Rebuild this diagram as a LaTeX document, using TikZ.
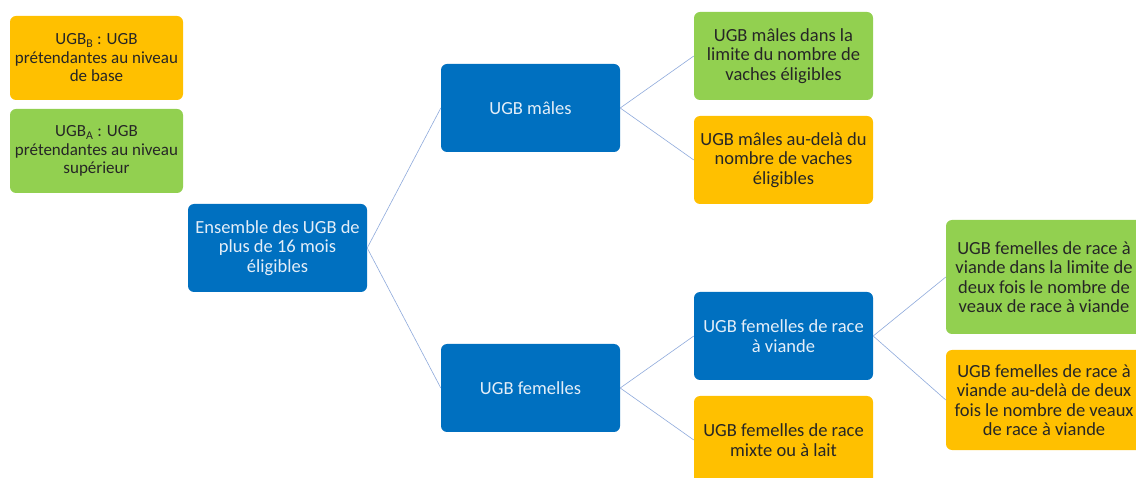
\documentclass[tikz,border=0pt]{standalone}
\usepackage{fontspec}
\setmainfont{Carlito}
\definecolor{ublue}{HTML}{0070C0}
\definecolor{uorange}{HTML}{FFC000}
\definecolor{ugreen}{HTML}{92D050}
\definecolor{uline}{HTML}{8FAADC}
\definecolor{utext}{HTML}{E4EEF8}
\begin{document}
\begin{tikzpicture}[x=1pt,y=-1pt,
  box/.style={rectangle, rounded corners=6pt, inner sep=0pt, align=center,
    font=\fontsize{18.5}{19.5}\selectfont, minimum width=179pt, minimum height=88pt},
  bluebox/.style={box, fill=ublue, text=utext},
  orangebox/.style={box, fill=uorange, text=black!85},
  greenbox/.style={box, fill=ugreen, text=black!85},
  legendbox/.style={font=\fontsize{17}{18.5}\selectfont, minimum width=173pt, minimum height=84pt},
  link/.style={draw=uline, line width=0.6pt}]
\useasboundingbox (0,0) rectangle (1136,478);
\clip (0,0) rectangle (1136,478);
\fill[white] (0,0) rectangle (1136,478);
% legend
\node[orangebox, legendbox] (legB) at (96.5,58) {UGB\textsubscript{B} : UGB\\prétendantes au niveau\\de base};
\node[greenbox, legendbox] (legA) at (96.5,151) {UGB\textsubscript{A} : UGB\\prétendantes au niveau\\supérieur};
% tree
\node[bluebox] (root) at (277.5,248) {Ensemble des UGB de\\plus de 16 mois\\éligibles};
\node[bluebox] (males) at (530.5,108) {UGB mâles};
\node[bluebox] (fem) at (530.5,388) {UGB femelles};
\node[greenbox] (mlim) at (783.5,56) {UGB mâles dans la\\limite du nombre de\\vaches éligibles};
\node[orangebox] (mdel) at (783.5,160) {UGB mâles au-delà du\\nombre de vaches\\éligibles};
\node[bluebox] (fviande) at (783.5,336) {UGB femelles de race\\à viande};
\node[orangebox] (fmixte) at (783.5,440) {UGB femelles de race\\mixte ou à lait};
\node[greenbox, minimum width=196pt, minimum height=114pt] (flim) at (1044,277) {UGB femelles de race à\\viande dans la limite de\\deux fois le nombre de\\veaux de race à viande};
\node[orangebox, minimum width=196pt, minimum height=100pt] (fdel) at (1044,400) {UGB femelles de race à\\viande au-delà de deux\\fois le nombre de veaux\\de race à viande};
% connectors
\draw[link] (root.east) -- (males.west);
\draw[link] (root.east) -- (fem.west);
\draw[link] (males.east) -- (mlim.west);
\draw[link] (males.east) -- (mdel.west);
\draw[link] (fem.east) -- (fviande.west);
\draw[link] (fem.east) -- (fmixte.west);
\draw[link] (fviande.east) -- (flim.west);
\draw[link] (fviande.east) -- (fdel.west);
\end{tikzpicture}
\end{document}
